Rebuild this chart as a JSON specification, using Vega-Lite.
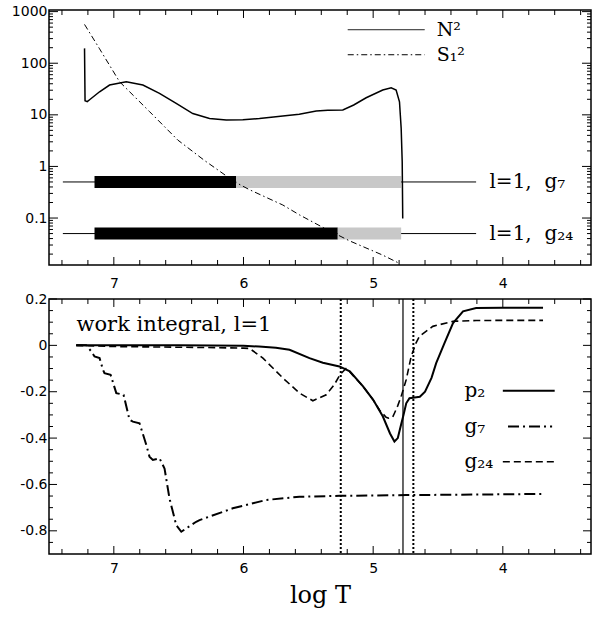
{
  "$schema": "https://vega.github.io/schema/vega-lite/v6.json",
  "padding": {"left": 10, "top": 3, "right": 1, "bottom": 0},
  "background": "white",
  "config": {
    "view": {"stroke": "black", "strokeWidth": 1.5},
    "axis": {"domain": false, "grid": false, "ticks": false, "labelColor": "black", "labelFont": "DejaVu Sans", "labelFontSize": 14, "titleColor": "black"},
    "text": {"font": "DejaVu Serif", "fontSize": 20, "color": "black"},
    "rule": {"color": "black", "strokeWidth": 1}
  },
  "datasets": {
    "xticks": [
      {"t": 7, "kind": "major"}, {"t": 6, "kind": "major"}, {"t": 5, "kind": "major"}, {"t": 4, "kind": "major"},
      {"t": 7.4, "kind": "minor"}, {"t": 7.2, "kind": "minor"}, {"t": 6.8, "kind": "minor"}, {"t": 6.6, "kind": "minor"},
      {"t": 6.4, "kind": "minor"}, {"t": 6.2, "kind": "minor"}, {"t": 5.8, "kind": "minor"}, {"t": 5.6, "kind": "minor"},
      {"t": 5.4, "kind": "minor"}, {"t": 5.2, "kind": "minor"}, {"t": 4.8, "kind": "minor"}, {"t": 4.6, "kind": "minor"},
      {"t": 4.4, "kind": "minor"}, {"t": 4.2, "kind": "minor"}, {"t": 3.8, "kind": "minor"}, {"t": 3.6, "kind": "minor"}, {"t": 3.4, "kind": "minor"}
    ],
    "logTicks": [
      {"v": 0.1, "kind": "major"}, {"v": 1, "kind": "major"}, {"v": 10, "kind": "major"}, {"v": 100, "kind": "major"}, {"v": 1000, "kind": "major"},
      {"v": 0.02, "kind": "minor"}, {"v": 0.03, "kind": "minor"}, {"v": 0.04, "kind": "minor"}, {"v": 0.05, "kind": "minor"}, {"v": 0.06, "kind": "minor"}, {"v": 0.07, "kind": "minor"}, {"v": 0.08, "kind": "minor"}, {"v": 0.09, "kind": "minor"},
      {"v": 0.2, "kind": "minor"}, {"v": 0.3, "kind": "minor"}, {"v": 0.4, "kind": "minor"}, {"v": 0.5, "kind": "minor"}, {"v": 0.6, "kind": "minor"}, {"v": 0.7, "kind": "minor"}, {"v": 0.8, "kind": "minor"}, {"v": 0.9, "kind": "minor"},
      {"v": 2, "kind": "minor"}, {"v": 3, "kind": "minor"}, {"v": 4, "kind": "minor"}, {"v": 5, "kind": "minor"}, {"v": 6, "kind": "minor"}, {"v": 7, "kind": "minor"}, {"v": 8, "kind": "minor"}, {"v": 9, "kind": "minor"},
      {"v": 20, "kind": "minor"}, {"v": 30, "kind": "minor"}, {"v": 40, "kind": "minor"}, {"v": 50, "kind": "minor"}, {"v": 60, "kind": "minor"}, {"v": 70, "kind": "minor"}, {"v": 80, "kind": "minor"}, {"v": 90, "kind": "minor"},
      {"v": 200, "kind": "minor"}, {"v": 300, "kind": "minor"}, {"v": 400, "kind": "minor"}, {"v": 500, "kind": "minor"}, {"v": 600, "kind": "minor"}, {"v": 700, "kind": "minor"}, {"v": 800, "kind": "minor"}, {"v": 900, "kind": "minor"}
    ],
    "linTicks": [
      {"v": 0.2, "kind": "major"}, {"v": 0, "kind": "major"}, {"v": -0.2, "kind": "major"}, {"v": -0.4, "kind": "major"}, {"v": -0.6, "kind": "major"}, {"v": -0.8, "kind": "major"},
      {"v": 0.15, "kind": "minor"}, {"v": 0.1, "kind": "minor"}, {"v": 0.05, "kind": "minor"}, {"v": -0.05, "kind": "minor"}, {"v": -0.1, "kind": "minor"}, {"v": -0.15, "kind": "minor"},
      {"v": -0.25, "kind": "minor"}, {"v": -0.3, "kind": "minor"}, {"v": -0.35, "kind": "minor"}, {"v": -0.45, "kind": "minor"}, {"v": -0.5, "kind": "minor"}, {"v": -0.55, "kind": "minor"},
      {"v": -0.65, "kind": "minor"}, {"v": -0.7, "kind": "minor"}, {"v": -0.75, "kind": "minor"}, {"v": -0.85, "kind": "minor"}
    ],
    "thinLines": [{"from": 7.393, "to": 4.206, "level": 0.5}, {"from": 7.393, "to": 4.206, "level": 0.05}],
    "bands": [
      {"from": 7.149, "to": 6.056, "level": 0.5, "zone": "inner"},
      {"from": 6.056, "to": 4.784, "level": 0.5, "zone": "outer"},
      {"from": 7.149, "to": 5.273, "level": 0.05, "zone": "inner"},
      {"from": 5.273, "to": 4.784, "level": 0.05, "zone": "outer"}
    ],
    "n2": [
      {"logT": 7.226, "val": 194}, {"logT": 7.222, "val": 18.7}, {"logT": 7.205, "val": 18.0}, {"logT": 7.187, "val": 19.6},
      {"logT": 7.11, "val": 28}, {"logT": 7.033, "val": 37.8}, {"logT": 6.904, "val": 43.8}, {"logT": 6.776, "val": 37.8},
      {"logT": 6.648, "val": 26}, {"logT": 6.519, "val": 16.6}, {"logT": 6.391, "val": 10.6}, {"logT": 6.262, "val": 8.5},
      {"logT": 6.133, "val": 7.94}, {"logT": 6.005, "val": 8.0}, {"logT": 5.877, "val": 8.5}, {"logT": 5.75, "val": 9.2},
      {"logT": 5.697, "val": 9.5}, {"logT": 5.57, "val": 10.3}, {"logT": 5.439, "val": 11.8}, {"logT": 5.35, "val": 12.2},
      {"logT": 5.234, "val": 12.4}, {"logT": 5.15, "val": 15.5}, {"logT": 5.054, "val": 21.4}, {"logT": 4.926, "val": 30.2},
      {"logT": 4.861, "val": 33.5}, {"logT": 4.823, "val": 30.2}, {"logT": 4.797, "val": 17.9}, {"logT": 4.784, "val": 5.5},
      {"logT": 4.776, "val": 1.23}, {"logT": 4.772, "val": 0.098}
    ],
    "s1": [
      {"logT": 7.226, "val": 565}, {"logT": 7.11, "val": 190}, {"logT": 6.956, "val": 43.8}, {"logT": 6.724, "val": 11.5},
      {"logT": 6.507, "val": 3.25}, {"logT": 6.3, "val": 1.3}, {"logT": 6.069, "val": 0.505}, {"logT": 5.954, "val": 0.354},
      {"logT": 5.697, "val": 0.179}, {"logT": 5.568, "val": 0.115}, {"logT": 5.389, "val": 0.066}, {"logT": 5.183, "val": 0.0362},
      {"logT": 4.926, "val": 0.0191}, {"logT": 4.797, "val": 0.0132}
    ],
    "topLegend": [
      {"series": "N2", "from": 5.196, "to": 4.603, "val": 446, "tx": 4.51, "label": "N²"},
      {"series": "S1", "from": 5.196, "to": 4.603, "val": 146, "tx": 4.51, "label": "S₁²"}
    ],
    "bandLabels": [
      {"logT": 4.103, "val": 0.5, "label": "l=1,\u00a0\u00a0g₇"},
      {"logT": 4.103, "val": 0.05, "label": "l=1,\u00a0\u00a0g₂₄"}
    ],
    "work": [
      {"mode": "p2", "logT": 7.29, "val": 0}, {"mode": "p2", "logT": 7.0, "val": 0}, {"mode": "p2", "logT": 6.5, "val": 0},
      {"mode": "p2", "logT": 6.0, "val": -0.002}, {"mode": "p2", "logT": 5.88, "val": -0.005}, {"mode": "p2", "logT": 5.75, "val": -0.01},
      {"mode": "p2", "logT": 5.645, "val": -0.019}, {"mode": "p2", "logT": 5.491, "val": -0.055}, {"mode": "p2", "logT": 5.388, "val": -0.075},
      {"mode": "p2", "logT": 5.26, "val": -0.091}, {"mode": "p2", "logT": 5.18, "val": -0.112}, {"mode": "p2", "logT": 5.078, "val": -0.177},
      {"mode": "p2", "logT": 5.0, "val": -0.235}, {"mode": "p2", "logT": 4.925, "val": -0.307}, {"mode": "p2", "logT": 4.87, "val": -0.38},
      {"mode": "p2", "logT": 4.836, "val": -0.415}, {"mode": "p2", "logT": 4.81, "val": -0.4}, {"mode": "p2", "logT": 4.784, "val": -0.34},
      {"mode": "p2", "logT": 4.766, "val": -0.3}, {"mode": "p2", "logT": 4.745, "val": -0.25}, {"mode": "p2", "logT": 4.72, "val": -0.228},
      {"mode": "p2", "logT": 4.68, "val": -0.225}, {"mode": "p2", "logT": 4.64, "val": -0.222}, {"mode": "p2", "logT": 4.6, "val": -0.2},
      {"mode": "p2", "logT": 4.55, "val": -0.14}, {"mode": "p2", "logT": 4.514, "val": -0.077}, {"mode": "p2", "logT": 4.45, "val": 0.01},
      {"mode": "p2", "logT": 4.384, "val": 0.096}, {"mode": "p2", "logT": 4.307, "val": 0.147}, {"mode": "p2", "logT": 4.206, "val": 0.161},
      {"mode": "p2", "logT": 4.0, "val": 0.162}, {"mode": "p2", "logT": 3.69, "val": 0.162},
      {"mode": "g24", "logT": 7.29, "val": 0}, {"mode": "g24", "logT": 7.0, "val": -0.005}, {"mode": "g24", "logT": 6.5, "val": -0.008},
      {"mode": "g24", "logT": 6.2, "val": -0.01}, {"mode": "g24", "logT": 6.0, "val": -0.012}, {"mode": "g24", "logT": 5.954, "val": -0.013},
      {"mode": "g24", "logT": 5.85, "val": -0.055}, {"mode": "g24", "logT": 5.696, "val": -0.141}, {"mode": "g24", "logT": 5.568, "val": -0.206},
      {"mode": "g24", "logT": 5.465, "val": -0.239}, {"mode": "g24", "logT": 5.362, "val": -0.213}, {"mode": "g24", "logT": 5.3, "val": -0.17},
      {"mode": "g24", "logT": 5.254, "val": -0.125}, {"mode": "g24", "logT": 5.21, "val": -0.1}, {"mode": "g24", "logT": 5.18, "val": -0.115},
      {"mode": "g24", "logT": 5.078, "val": -0.177}, {"mode": "g24", "logT": 5.0, "val": -0.235}, {"mode": "g24", "logT": 4.95, "val": -0.28},
      {"mode": "g24", "logT": 4.9, "val": -0.31}, {"mode": "g24", "logT": 4.88, "val": -0.314}, {"mode": "g24", "logT": 4.85, "val": -0.31},
      {"mode": "g24", "logT": 4.836, "val": -0.293}, {"mode": "g24", "logT": 4.81, "val": -0.26}, {"mode": "g24", "logT": 4.784, "val": -0.22},
      {"mode": "g24", "logT": 4.745, "val": -0.148}, {"mode": "g24", "logT": 4.707, "val": -0.048}, {"mode": "g24", "logT": 4.67, "val": 0.01},
      {"mode": "g24", "logT": 4.643, "val": 0.039}, {"mode": "g24", "logT": 4.54, "val": 0.082}, {"mode": "g24", "logT": 4.384, "val": 0.104},
      {"mode": "g24", "logT": 4.206, "val": 0.107}, {"mode": "g24", "logT": 4.0, "val": 0.108}, {"mode": "g24", "logT": 3.69, "val": 0.108},
      {"mode": "g7", "logT": 7.29, "val": 0}, {"mode": "g7", "logT": 7.213, "val": 0}, {"mode": "g7", "logT": 7.174, "val": -0.026},
      {"mode": "g7", "logT": 7.149, "val": -0.048}, {"mode": "g7", "logT": 7.11, "val": -0.055}, {"mode": "g7", "logT": 7.084, "val": -0.105},
      {"mode": "g7", "logT": 7.072, "val": -0.12}, {"mode": "g7", "logT": 7.025, "val": -0.127}, {"mode": "g7", "logT": 6.981, "val": -0.206},
      {"mode": "g7", "logT": 6.925, "val": -0.213}, {"mode": "g7", "logT": 6.879, "val": -0.321}, {"mode": "g7", "logT": 6.853, "val": -0.329},
      {"mode": "g7", "logT": 6.802, "val": -0.336}, {"mode": "g7", "logT": 6.75, "val": -0.429}, {"mode": "g7", "logT": 6.725, "val": -0.48},
      {"mode": "g7", "logT": 6.699, "val": -0.494}, {"mode": "g7", "logT": 6.648, "val": -0.487}, {"mode": "g7", "logT": 6.609, "val": -0.531},
      {"mode": "g7", "logT": 6.571, "val": -0.66}, {"mode": "g7", "logT": 6.519, "val": -0.775}, {"mode": "g7", "logT": 6.48, "val": -0.804},
      {"mode": "g7", "logT": 6.365, "val": -0.761}, {"mode": "g7", "logT": 6.339, "val": -0.754}, {"mode": "g7", "logT": 6.083, "val": -0.703},
      {"mode": "g7", "logT": 5.825, "val": -0.667}, {"mode": "g7", "logT": 5.568, "val": -0.653}, {"mode": "g7", "logT": 5.26, "val": -0.649},
      {"mode": "g7", "logT": 4.745, "val": -0.646}, {"mode": "g7", "logT": 3.69, "val": -0.641}
    ],
    "vlines": [{"logT": 5.25, "kind": "dotted"}, {"logT": 4.69, "kind": "dotted"}, {"logT": 4.77, "kind": "solid"}],
    "botLegend": [
      {"mode": "p2", "from": 4.0, "to": 3.6, "val": -0.196, "tx": 4.296, "label": "p₂"},
      {"mode": "g7", "from": 3.96, "to": 3.62, "val": -0.35, "tx": 4.296, "label": "g₇"},
      {"mode": "g24", "from": 4.0, "to": 3.6, "val": -0.502, "tx": 4.296, "label": "g₂₄"}
    ],
    "workLabel": [{"logT": 7.288, "val": 0.09, "label": "work integral, l=1"}]
  },
  "spacing": 34,
  "bounds": "flush",
  "vconcat": [
    {
      "width": 542,
      "height": 255,
      "resolve": {"axis": {"x": "independent", "y": "independent"}},
      "layer": [
        {"data": {"name": "xticks"}, "transform": [{"filter": "datum.kind == 'major'"}], "mark": "rule",
         "encoding": {"x": {"field": "t", "type": "quantitative", "scale": {"domain": [3.32, 7.5], "reverse": true, "nice": false, "zero": false}, "axis": null},
                      "y": {"datum": 0.0123, "type": "quantitative", "scale": {"type": "log", "domain": [0.0123, 1075], "nice": false}, "axis": null}, "y2": {"datum": 0.01758}}},
        {"data": {"name": "xticks"}, "transform": [{"filter": "datum.kind == 'minor'"}], "mark": "rule",
         "encoding": {"x": {"field": "t", "type": "quantitative", "scale": {"domain": [3.32, 7.5], "reverse": true, "nice": false, "zero": false}, "axis": null},
                      "y": {"datum": 0.0123, "type": "quantitative", "scale": {"type": "log", "domain": [0.0123, 1075], "nice": false}, "axis": null}, "y2": {"datum": 0.01538}}},
        {"data": {"name": "xticks"}, "transform": [{"filter": "datum.kind == 'major'"}], "mark": "rule",
         "encoding": {"x": {"field": "t", "type": "quantitative", "scale": {"domain": [3.32, 7.5], "reverse": true, "nice": false, "zero": false}, "axis": null},
                      "y": {"datum": 1075, "type": "quantitative", "scale": {"type": "log", "domain": [0.0123, 1075], "nice": false}, "axis": null}, "y2": {"datum": 752.3}}},
        {"data": {"name": "xticks"}, "transform": [{"filter": "datum.kind == 'minor'"}], "mark": "rule",
         "encoding": {"x": {"field": "t", "type": "quantitative", "scale": {"domain": [3.32, 7.5], "reverse": true, "nice": false, "zero": false}, "axis": null},
                      "y": {"datum": 1075, "type": "quantitative", "scale": {"type": "log", "domain": [0.0123, 1075], "nice": false}, "axis": null}, "y2": {"datum": 860}}},
        {"data": {"name": "logTicks"}, "transform": [{"filter": "datum.kind == 'major'"}], "mark": "rule",
         "encoding": {"x": {"datum": 7.5, "type": "quantitative", "scale": {"domain": [3.32, 7.5], "reverse": true, "nice": false, "zero": false}, "axis": null}, "x2": {"datum": 7.4306},
                      "y": {"field": "v", "type": "quantitative", "scale": {"type": "log", "domain": [0.0123, 1075], "nice": false}, "axis": null}}},
        {"data": {"name": "logTicks"}, "transform": [{"filter": "datum.kind == 'minor'"}], "mark": "rule",
         "encoding": {"x": {"datum": 7.5, "type": "quantitative", "scale": {"domain": [3.32, 7.5], "reverse": true, "nice": false, "zero": false}, "axis": null}, "x2": {"datum": 7.4692},
                      "y": {"field": "v", "type": "quantitative", "scale": {"type": "log", "domain": [0.0123, 1075], "nice": false}, "axis": null}}},
        {"data": {"name": "logTicks"}, "transform": [{"filter": "datum.kind == 'major'"}], "mark": "rule",
         "encoding": {"x": {"datum": 3.32, "type": "quantitative", "scale": {"domain": [3.32, 7.5], "reverse": true, "nice": false, "zero": false}, "axis": null}, "x2": {"datum": 3.3894},
                      "y": {"field": "v", "type": "quantitative", "scale": {"type": "log", "domain": [0.0123, 1075], "nice": false}, "axis": null}}},
        {"data": {"name": "logTicks"}, "transform": [{"filter": "datum.kind == 'minor'"}], "mark": "rule",
         "encoding": {"x": {"datum": 3.32, "type": "quantitative", "scale": {"domain": [3.32, 7.5], "reverse": true, "nice": false, "zero": false}, "axis": null}, "x2": {"datum": 3.3508},
                      "y": {"field": "v", "type": "quantitative", "scale": {"type": "log", "domain": [0.0123, 1075], "nice": false}, "axis": null}}},
        {
          "data": {"name": "thinLines"},
          "mark": {"type": "rule", "color": "black", "strokeWidth": 1},
          "encoding": {
            "x": {"field": "from", "type": "quantitative", "scale": {"domain": [3.32, 7.5], "reverse": true, "nice": false, "zero": false}, "axis": null},
            "x2": {"field": "to"},
            "y": {"field": "level", "type": "quantitative", "scale": {"type": "log", "domain": [0.0123, 1075], "nice": false},
                  "axis": {"orient": "left", "values": [0.1, 1, 10, 100, 1000], "labelExpr": "toString(datum.value)", "labelPadding": 2, "title": null}}
          }
        },
        {
          "data": {"name": "bands"},
          "mark": {"type": "rule", "strokeWidth": 12},
          "encoding": {
            "x": {"field": "from", "type": "quantitative", "scale": {"domain": [3.32, 7.5], "reverse": true, "nice": false, "zero": false}, "axis": null},
            "x2": {"field": "to"},
            "y": {"field": "level", "type": "quantitative", "scale": {"type": "log", "domain": [0.0123, 1075], "nice": false}, "axis": null},
            "color": {"field": "zone", "type": "nominal", "scale": {"domain": ["inner", "outer"], "range": ["black", "#c8c8c8"]}, "legend": null}
          }
        },
        {
          "data": {"name": "n2"},
          "mark": {"type": "line", "color": "black", "strokeWidth": 1.5},
          "encoding": {
            "x": {"field": "logT", "type": "quantitative", "scale": {"domain": [3.32, 7.5], "reverse": true, "nice": false, "zero": false}, "axis": null},
            "y": {"field": "val", "type": "quantitative", "scale": {"type": "log", "domain": [0.0123, 1075], "nice": false}, "axis": null}
          }
        },
        {
          "data": {"name": "s1"},
          "mark": {"type": "line", "color": "black", "strokeWidth": 1, "strokeDash": [6, 3, 1.5, 3]},
          "encoding": {
            "x": {"field": "logT", "type": "quantitative", "scale": {"domain": [3.32, 7.5], "reverse": true, "nice": false, "zero": false}, "axis": null},
            "y": {"field": "val", "type": "quantitative", "scale": {"type": "log", "domain": [0.0123, 1075], "nice": false}, "axis": null}
          }
        },
        {
          "data": {"name": "topLegend"},
          "mark": {"type": "rule", "color": "black", "strokeWidth": 1},
          "encoding": {
            "x": {"field": "from", "type": "quantitative", "scale": {"domain": [3.32, 7.5], "reverse": true, "nice": false, "zero": false}, "axis": null},
            "x2": {"field": "to"},
            "y": {"field": "val", "type": "quantitative", "scale": {"type": "log", "domain": [0.0123, 1075], "nice": false}, "axis": null},
            "strokeDash": {"field": "series", "type": "nominal", "scale": {"domain": ["N2", "S1"], "range": [[1, 0], [6, 3, 1.5, 3]]}, "legend": null}
          }
        },
        {
          "data": {"name": "topLegend"},
          "mark": {"type": "text", "align": "left", "baseline": "middle", "fontSize": 19},
          "encoding": {
            "x": {"field": "tx", "type": "quantitative", "scale": {"domain": [3.32, 7.5], "reverse": true, "nice": false, "zero": false}, "axis": null},
            "y": {"field": "val", "type": "quantitative", "scale": {"type": "log", "domain": [0.0123, 1075], "nice": false}, "axis": null},
            "text": {"field": "label"}
          }
        },
        {
          "data": {"name": "bandLabels"},
          "mark": {"type": "text", "align": "left", "baseline": "middle", "fontSize": 20},
          "encoding": {
            "x": {"field": "logT", "type": "quantitative", "scale": {"domain": [3.32, 7.5], "reverse": true, "nice": false, "zero": false}, "axis": null},
            "y": {"field": "val", "type": "quantitative", "scale": {"type": "log", "domain": [0.0123, 1075], "nice": false}, "axis": null},
            "text": {"field": "label"}
          }
        }
      ]
    },
    {
      "width": 542,
      "height": 255,
      "resolve": {"axis": {"x": "independent", "y": "independent"}},
      "layer": [
        {"data": {"name": "xticks"}, "transform": [{"filter": "datum.kind == 'major'"}], "mark": "rule",
         "encoding": {"x": {"field": "t", "type": "quantitative", "scale": {"domain": [3.32, 7.5], "reverse": true, "nice": false, "zero": false}, "axis": null},
                      "y": {"datum": -0.9, "type": "quantitative", "scale": {"domain": [-0.9, 0.2], "nice": false, "zero": false}, "axis": null}, "y2": {"datum": -0.8655}}},
        {"data": {"name": "xticks"}, "transform": [{"filter": "datum.kind == 'minor'"}], "mark": "rule",
         "encoding": {"x": {"field": "t", "type": "quantitative", "scale": {"domain": [3.32, 7.5], "reverse": true, "nice": false, "zero": false}, "axis": null},
                      "y": {"datum": -0.9, "type": "quantitative", "scale": {"domain": [-0.9, 0.2], "nice": false, "zero": false}, "axis": null}, "y2": {"datum": -0.8784}}},
        {"data": {"name": "xticks"}, "transform": [{"filter": "datum.kind == 'major'"}], "mark": "rule",
         "encoding": {"x": {"field": "t", "type": "quantitative", "scale": {"domain": [3.32, 7.5], "reverse": true, "nice": false, "zero": false}, "axis": null},
                      "y": {"datum": 0.2, "type": "quantitative", "scale": {"domain": [-0.9, 0.2], "nice": false, "zero": false}, "axis": null}, "y2": {"datum": 0.1655}}},
        {"data": {"name": "xticks"}, "transform": [{"filter": "datum.kind == 'minor'"}], "mark": "rule",
         "encoding": {"x": {"field": "t", "type": "quantitative", "scale": {"domain": [3.32, 7.5], "reverse": true, "nice": false, "zero": false}, "axis": null},
                      "y": {"datum": 0.2, "type": "quantitative", "scale": {"domain": [-0.9, 0.2], "nice": false, "zero": false}, "axis": null}, "y2": {"datum": 0.1784}}},
        {"data": {"name": "linTicks"}, "transform": [{"filter": "datum.kind == 'major'"}], "mark": "rule",
         "encoding": {"x": {"datum": 7.5, "type": "quantitative", "scale": {"domain": [3.32, 7.5], "reverse": true, "nice": false, "zero": false}, "axis": null}, "x2": {"datum": 7.4383},
                      "y": {"field": "v", "type": "quantitative", "scale": {"domain": [-0.9, 0.2], "nice": false, "zero": false}, "axis": null}}},
        {"data": {"name": "linTicks"}, "transform": [{"filter": "datum.kind == 'minor'"}], "mark": "rule",
         "encoding": {"x": {"datum": 7.5, "type": "quantitative", "scale": {"domain": [3.32, 7.5], "reverse": true, "nice": false, "zero": false}, "axis": null}, "x2": {"datum": 7.4692},
                      "y": {"field": "v", "type": "quantitative", "scale": {"domain": [-0.9, 0.2], "nice": false, "zero": false}, "axis": null}}},
        {"data": {"name": "linTicks"}, "transform": [{"filter": "datum.kind == 'major'"}], "mark": "rule",
         "encoding": {"x": {"datum": 3.32, "type": "quantitative", "scale": {"domain": [3.32, 7.5], "reverse": true, "nice": false, "zero": false}, "axis": null}, "x2": {"datum": 3.3817},
                      "y": {"field": "v", "type": "quantitative", "scale": {"domain": [-0.9, 0.2], "nice": false, "zero": false}, "axis": null}}},
        {"data": {"name": "linTicks"}, "transform": [{"filter": "datum.kind == 'minor'"}], "mark": "rule",
         "encoding": {"x": {"datum": 3.32, "type": "quantitative", "scale": {"domain": [3.32, 7.5], "reverse": true, "nice": false, "zero": false}, "axis": null}, "x2": {"datum": 3.3508},
                      "y": {"field": "v", "type": "quantitative", "scale": {"domain": [-0.9, 0.2], "nice": false, "zero": false}, "axis": null}}},
        {
          "mark": {"type": "rule", "color": "#555555", "strokeWidth": 1, "strokeDash": [1, 3]},
          "encoding": {
            "y": {"datum": 0, "type": "quantitative", "scale": {"domain": [-0.9, 0.2], "nice": false, "zero": false}, "axis": null}
          }
        },
        {
          "data": {"name": "vlines"},
          "transform": [{"filter": "datum.kind == 'dotted'"}],
          "mark": {"type": "rule", "color": "black", "strokeWidth": 2, "strokeDash": [2, 2]},
          "encoding": {
            "x": {"field": "logT", "type": "quantitative", "scale": {"domain": [3.32, 7.5], "reverse": true, "nice": false, "zero": false}, "axis": null}
          }
        },
        {
          "data": {"name": "vlines"},
          "transform": [{"filter": "datum.kind == 'solid'"}],
          "mark": {"type": "rule", "color": "black", "strokeWidth": 1.2},
          "encoding": {
            "x": {"field": "logT", "type": "quantitative", "scale": {"domain": [3.32, 7.5], "reverse": true, "nice": false, "zero": false}, "axis": null}
          }
        },
        {
          "data": {"name": "work"},
          "transform": [{"filter": "datum.mode == 'g24'"}],
          "mark": {"type": "line", "color": "black", "strokeWidth": 1.6, "strokeDash": [7, 4]},
          "encoding": {
            "x": {"field": "logT", "type": "quantitative", "scale": {"domain": [3.32, 7.5], "reverse": true, "nice": false, "zero": false}, "axis": null},
            "y": {"field": "val", "type": "quantitative", "scale": {"domain": [-0.9, 0.2], "nice": false, "zero": false}, "axis": null}
          }
        },
        {
          "data": {"name": "work"},
          "transform": [{"filter": "datum.mode == 'g7'"}],
          "mark": {"type": "line", "color": "black", "strokeWidth": 2, "strokeDash": [11, 4, 2, 4]},
          "encoding": {
            "x": {"field": "logT", "type": "quantitative", "scale": {"domain": [3.32, 7.5], "reverse": true, "nice": false, "zero": false},
                  "axis": {"orient": "bottom", "values": [7, 6, 5, 4], "labelExpr": "toString(datum.value)", "labelPadding": 7, "title": "log  T", "titleFont": "DejaVu Serif", "titleFontSize": 24, "titleFontWeight": "normal", "titlePadding": 8}},
            "y": {"field": "val", "type": "quantitative", "scale": {"domain": [-0.9, 0.2], "nice": false, "zero": false}, "axis": null}
          }
        },
        {
          "data": {"name": "work"},
          "transform": [{"filter": "datum.mode == 'p2'"}],
          "mark": {"type": "line", "color": "black", "strokeWidth": 2},
          "encoding": {
            "x": {"field": "logT", "type": "quantitative", "scale": {"domain": [3.32, 7.5], "reverse": true, "nice": false, "zero": false},
                  "axis": {"orient": "top", "values": [7, 6, 5, 4], "labelExpr": "toString(datum.value)", "labelPadding": 9, "title": null}},
            "y": {"field": "val", "type": "quantitative", "scale": {"domain": [-0.9, 0.2], "nice": false, "zero": false},
                  "axis": {"orient": "left", "values": [0.2, 0, -0.2, -0.4, -0.6, -0.8], "labelExpr": "toString(datum.value)", "labelPadding": 2, "title": null}}
          }
        },
        {
          "data": {"name": "botLegend"},
          "transform": [{"filter": "datum.mode == 'p2'"}],
          "mark": {"type": "rule", "color": "black", "strokeWidth": 2},
          "encoding": {
            "x": {"field": "from", "type": "quantitative", "scale": {"domain": [3.32, 7.5], "reverse": true, "nice": false, "zero": false}, "axis": null},
            "x2": {"field": "to"},
            "y": {"field": "val", "type": "quantitative", "scale": {"domain": [-0.9, 0.2], "nice": false, "zero": false}, "axis": null}
          }
        },
        {
          "data": {"name": "botLegend"},
          "transform": [{"filter": "datum.mode == 'g7'"}],
          "mark": {"type": "rule", "color": "black", "strokeWidth": 2, "strokeDash": [11, 4, 2, 4]},
          "encoding": {
            "x": {"field": "from", "type": "quantitative", "scale": {"domain": [3.32, 7.5], "reverse": true, "nice": false, "zero": false}, "axis": null},
            "x2": {"field": "to"},
            "y": {"field": "val", "type": "quantitative", "scale": {"domain": [-0.9, 0.2], "nice": false, "zero": false}, "axis": null}
          }
        },
        {
          "data": {"name": "botLegend"},
          "transform": [{"filter": "datum.mode == 'g24'"}],
          "mark": {"type": "rule", "color": "black", "strokeWidth": 1.6, "strokeDash": [7, 4]},
          "encoding": {
            "x": {"field": "from", "type": "quantitative", "scale": {"domain": [3.32, 7.5], "reverse": true, "nice": false, "zero": false}, "axis": null},
            "x2": {"field": "to"},
            "y": {"field": "val", "type": "quantitative", "scale": {"domain": [-0.9, 0.2], "nice": false, "zero": false}, "axis": null}
          }
        },
        {
          "data": {"name": "botLegend"},
          "mark": {"type": "text", "align": "left", "baseline": "middle", "fontSize": 20},
          "encoding": {
            "x": {"field": "tx", "type": "quantitative", "scale": {"domain": [3.32, 7.5], "reverse": true, "nice": false, "zero": false}, "axis": null},
            "y": {"field": "val", "type": "quantitative", "scale": {"domain": [-0.9, 0.2], "nice": false, "zero": false}, "axis": null},
            "text": {"field": "label"}
          }
        },
        {
          "data": {"name": "workLabel"},
          "mark": {"type": "text", "align": "left", "baseline": "middle", "fontSize": 21},
          "encoding": {
            "x": {"field": "logT", "type": "quantitative", "scale": {"domain": [3.32, 7.5], "reverse": true, "nice": false, "zero": false}, "axis": null},
            "y": {"field": "val", "type": "quantitative", "scale": {"domain": [-0.9, 0.2], "nice": false, "zero": false}, "axis": null},
            "text": {"field": "label"}
          }
        }
      ]
    }
  ]
}
